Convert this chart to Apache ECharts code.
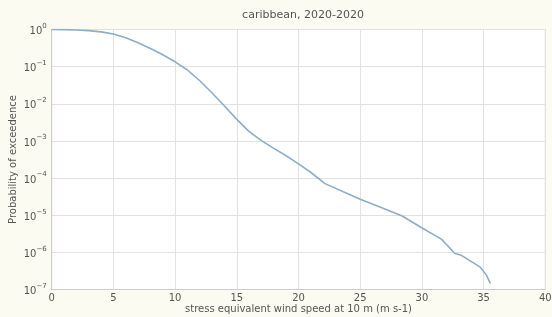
<!DOCTYPE html>
<html><head><meta charset="utf-8">
<script src="https://cdn.jsdelivr.net/npm/echarts@6/dist/echarts.min.js"></script>
<style>html,body{margin:0;padding:0;background:#fbfbf1;}#c{width:552px;height:317px;}</style>
</head><body><div id="c"></div>
<script>
const windSpeed = [0, 1, 2, 3, 4, 5, 6, 7, 8, 9, 10, 11, 12, 13, 14, 15, 16, 17, 18, 19, 20, 20.93, 22.15, 23.63, 25, 26.6, 28.4, 29.85, 31.6, 32.68, 33.2, 34.7, 35.24, 35.55];
const exceedence = [1.0, 0.993, 0.973, 0.933, 0.861, 0.759, 0.596, 0.442, 0.309, 0.209, 0.135, 0.0813, 0.0417, 0.0195, 0.00871, 0.0038, 0.00178, 0.00102, 6.31e-4, 3.98e-4, 2.4e-4, 1.48e-4, 7.08e-5, 4.27e-5, 2.69e-5, 1.66e-5, 9.55e-6, 4.9e-6, 2.24e-6, 9.33e-7, 8.32e-7, 4.07e-7, 2.4e-7, 1.45e-7];
const xTicks = [0, 5, 10, 15, 20, 25, 30, 35, 40];
const titleText = 'caribbean, 2020-2020';
const xName = 'stress equivalent wind speed at 10 m (m s-1)';
const yName = 'Probability of exceedence';

const chart = echarts.init(document.getElementById('c'), null, {renderer: 'canvas'});
const txt = '#555';
const font = 'DejaVu Sans';
chart.setOption({
  backgroundColor: '#fbfbf1',
  animation: false,
  title: {text: titleText, left: 298, top: 5, textAlign: 'center',
    textStyle: {fontFamily: font, fontSize: 11, fontWeight: 'normal', color: txt}},
  grid: {left: 51.7, right: 6.7, top: 29.5, bottom: 27.5, show: true,
    containLabel: false, outerBoundsMode: 'none',
    backgroundColor: '#ffffff', borderColor: '#cccccc', borderWidth: 1},
  xAxis: {type: 'value', min: xTicks[0], max: xTicks[xTicks.length - 1], interval: 5,
    name: xName, nameLocation: 'middle', nameGap: 15, nameMoveOverlap: false,
    nameTextStyle: {fontFamily: font, fontSize: 10, color: txt},
    axisLine: {show: true, lineStyle: {color: '#cccccc'}},
    axisTick: {show: false},
    axisLabel: {fontFamily: font, fontSize: 10, color: txt, margin: 4},
    splitLine: {show: true, lineStyle: {color: '#e2e2e2', width: 1}}},
  yAxis: {type: 'log', logBase: 10, min: 1e-7, max: 1, interval: 1,
    name: yName, nameLocation: 'middle', nameGap: 33, nameMoveOverlap: false,
    nameTextStyle: {fontFamily: font, fontSize: 10, color: txt},
    axisLine: {show: true, lineStyle: {color: '#cccccc'}},
    axisTick: {show: false},
    axisLabel: {fontFamily: font, color: txt, margin: 5,
      formatter: function (v) {
        const e = Math.round(Math.log10(v));
        return '{b|10}{s|' + (e === 0 ? '0' : '\u2212' + Math.abs(e)) + '}';
      },
      rich: {
        b: {fontFamily: font, fontSize: 10, color: txt, verticalAlign: 'bottom', lineHeight: 14},
        s: {fontFamily: font, fontSize: 7, color: txt, verticalAlign: 'top', lineHeight: 14, padding: [0, 0, 6, 0]}
      }},
    splitLine: {show: true, lineStyle: {color: '#e2e2e2', width: 1}}},
  series: [{
    type: 'line', showSymbol: false, smooth: false,
    data: windSpeed.map((x, i) => [x, exceedence[i]]),
    lineStyle: {color: '#8dadc9', width: 1.6}
  }]
});
</script></body></html>
